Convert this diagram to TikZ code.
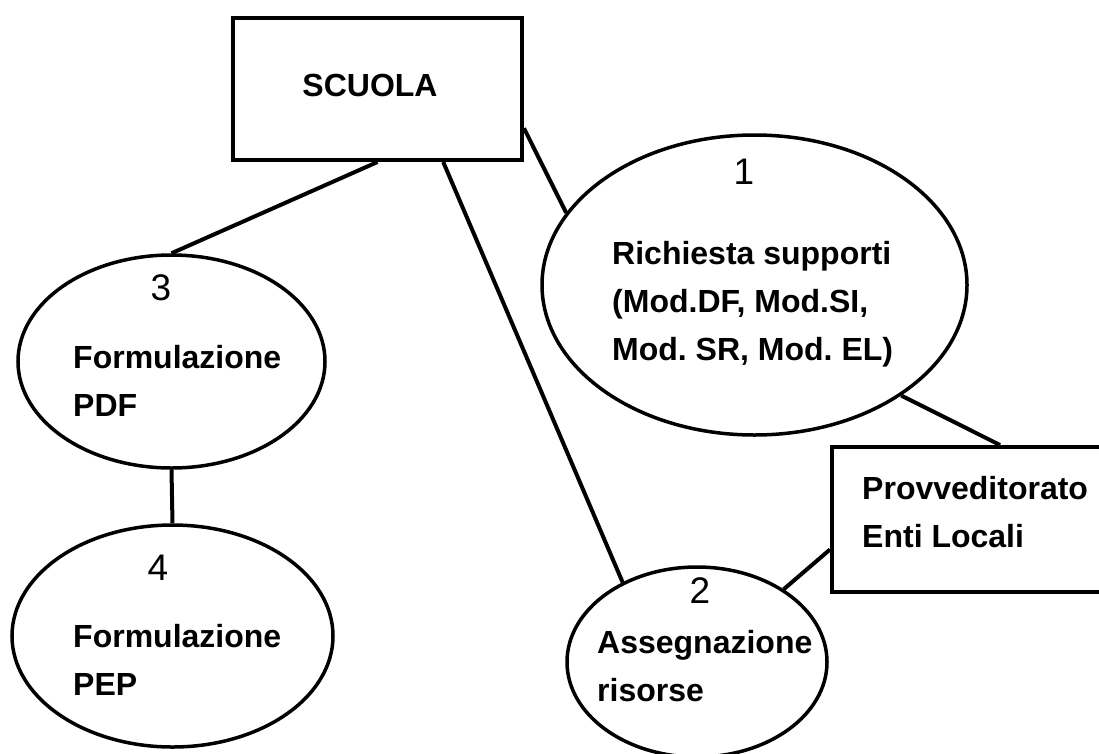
\documentclass[tikz,border=0pt]{standalone}
\usepackage{fontspec}
\setmainfont{Liberation Sans}
\usetikzlibrary{shapes.geometric}
\frenchspacing

\begin{document}
\begin{tikzpicture}[x=1pt,y=1pt,yscale=-1,xscale=1,
  box/.style={draw, line width=4, rectangle, inner sep=0},
  proc/.style={draw, line width=3.5, ellipse, inner sep=0},
  link/.style={line width=4},
  txt/.style={font={\fontsize{32}{48}\selectfont\bfseries}, align=left, inner sep=0, anchor=west},
  num/.style={font={\fontsize{37}{40}\selectfont}, inner sep=0}]
\useasboundingbox (0,0) rectangle (1099,753);
\clip (0,0) rectangle (1099,753);
% boxes
\node [box, minimum width=289, minimum height=142] (scuola) at (377.5,89) {};
\node [txt, anchor=center] (tscuola) at (370,85) {SCUOLA};
\node [box, minimum width=336, minimum height=145] (provv) at (1000,519.5) {};
\node [txt] (tprovv) at (862,512) {Provveditorato\\Enti Locali};
% processes
\node [proc, minimum width=425, minimum height=300] (e1) at (754.5,285) {};
\node [num] (n1) at (744,172) {1};
\node [txt] (t1) at (612,304) {Richiesta supporti\\(Mod.DF, Mod.SI,\\Mod. SR, Mod. EL)};
\node [proc, minimum width=260, minimum height=190] (e2) at (697,662) {};
\node [num] (n2) at (700,591) {2};
\node [txt] (t2) at (597,666) {Assegnazione\\risorse};
\node [proc, minimum width=307, minimum height=213] (e3) at (171.5,361.5) {};
\node [num] (n3) at (161,288) {3};
\node [txt] (t3) at (73,381) {Formulazione\\PDF};
\node [proc, minimum width=321, minimum height=222] (e4) at (172.5,636) {};
\node [num] (n4) at (158,568) {4};
\node [txt] (t4) at (73,660) {Formulazione\\PEP};
% links
\draw [link] (scuola.south) -- (e3.north);
\draw [link] (scuola.-48) -- (e2.133);
\draw [link] (scuola.-15) -- (e1.159);
\draw [link] (e3.south) -- (e4.north);
\draw [link] (e1.-37) -- (provv.north);
\draw [link] (provv.190) -- (e2.40);
\end{tikzpicture}
\end{document}
